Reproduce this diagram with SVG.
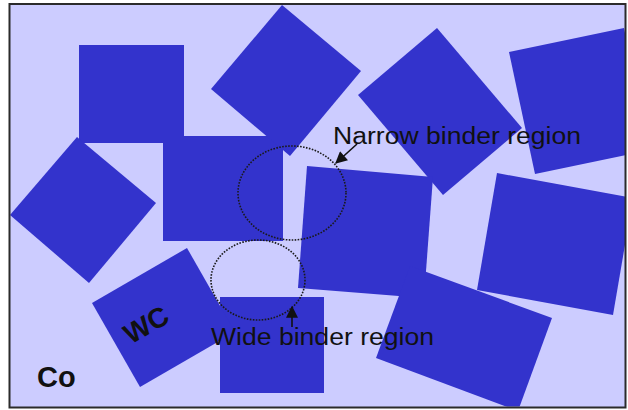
<svg xmlns="http://www.w3.org/2000/svg" width="628" height="410" viewBox="0 0 628 410">
  <style>
    .grain { fill: #3333CC; }
    .region { fill: none; stroke: #1a1a1a; stroke-width: 1.6; stroke-dasharray: 1.6 1.4; }
    .lbl { font-family: "Liberation Sans", Arial, sans-serif; fill: #111; }
    .bold { font-weight: bold; }
    .arrow { stroke: #111; stroke-width: 1.6; fill: none; marker-end: url(#head); }
  </style>
  <defs>
    <clipPath id="frame">
      <rect x="10" y="4.5" width="615" height="402"/>
    </clipPath>
    <marker id="head" viewBox="0 0 10 10" refX="9" refY="5" markerWidth="8" markerHeight="7.5" orient="auto" markerUnits="strokeWidth">
      <path d="M0,0 L10,5 L0,10 z" fill="#111"/>
    </marker>
  </defs>

  <rect x="0" y="0" width="628" height="410" fill="#ffffff"/>
  <rect x="9.5" y="4" width="616" height="403.5" fill="#CCCCFF"/>

  <g clip-path="url(#frame)">
    <g id="grain-a"><rect class="grain" x="79" y="45" width="105" height="98"/></g>
    <g id="grain-b"><rect class="grain" x="163" y="136" width="120" height="105"/></g>
    <g id="grain-c"><polygon class="grain" points="77,137 156,203 89,283 10,215"/></g>
    <g id="grain-d"><polygon class="grain" points="282,5 361,71 290,156 211,89"/></g>
    <g id="grain-e"><polygon class="grain" points="437,28 522,128 443,195 358,95"/></g>
    <g id="grain-f"><polygon class="grain" points="509,52 624,28 650,150 535,174"/></g>
    <g id="grain-g"><polygon class="grain" points="307,166 433,177 424,298 298,288"/></g>
    <g id="grain-h"><polygon class="grain" points="410,266 552,318 518,411 376,358"/></g>
    <g id="grain-i"><polygon class="grain" points="497,173 633,198 613,315 477,290"/></g>
    <g id="grain-j"><rect class="grain" x="220" y="297" width="104" height="96"/></g>
    <g id="grain-k"><polygon class="grain" points="187,248 235,332 140,387 92,303"/></g>
  </g>

  <g id="narrow-region"><ellipse class="region" cx="292" cy="193" rx="54" ry="47"/></g>
  <g id="wide-region"><ellipse class="region" cx="258" cy="280" rx="47" ry="40"/></g>

  <g id="connectors">
    <line class="arrow" x1="357" y1="144" x2="336" y2="163"/>
    <line class="arrow" x1="292" y1="327" x2="292" y2="307"/>
  </g>

  <g id="labels">
    <text class="lbl" x="333" y="144" font-size="23" textLength="248" lengthAdjust="spacingAndGlyphs">Narrow binder region</text>
    <text class="lbl" x="211" y="345" font-size="23.5" textLength="223" lengthAdjust="spacingAndGlyphs">Wide binder region</text>
    <text class="lbl bold" x="151" y="333" font-size="28" text-anchor="middle" transform="rotate(-30 151 333)">WC</text>
    <text class="lbl bold" x="37" y="387" font-size="29">Co</text>
  </g>

  <rect x="9.5" y="4" width="616" height="403.5" fill="none" stroke="#2b2b2b" stroke-width="2"/>
</svg>
